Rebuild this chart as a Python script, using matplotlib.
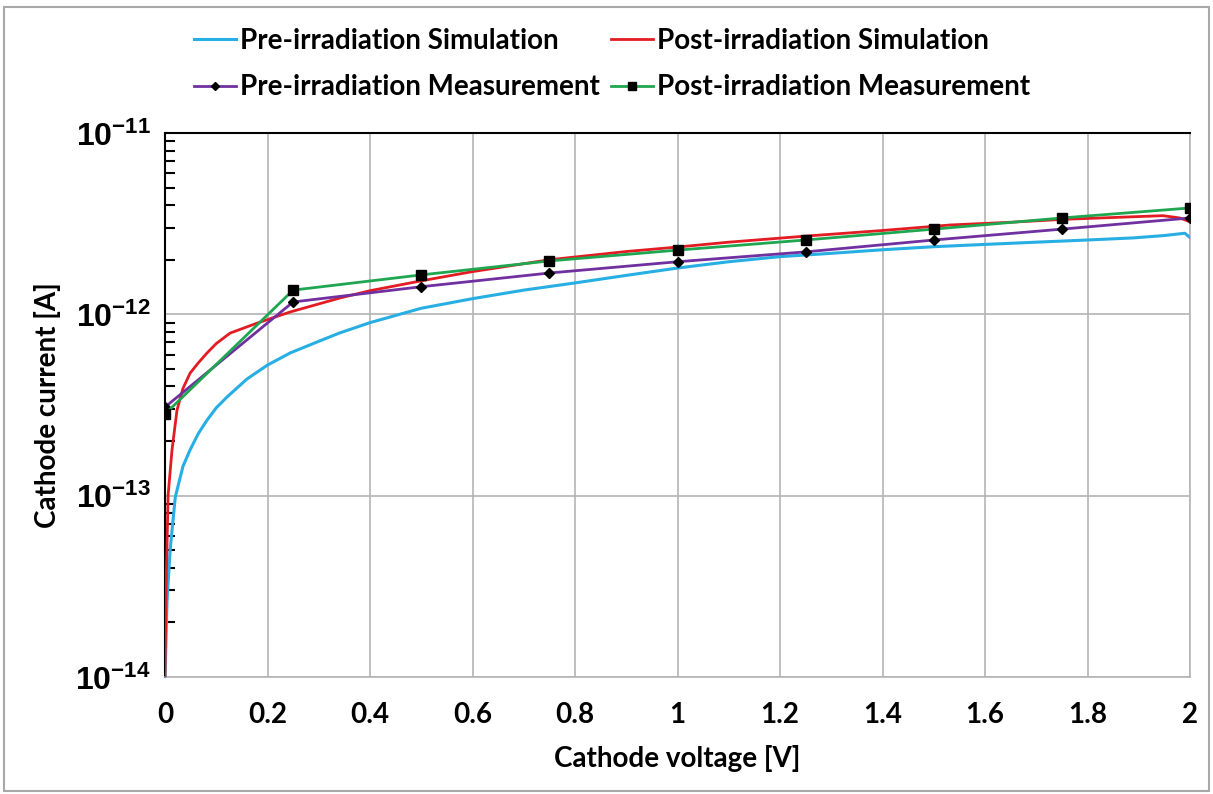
import matplotlib
matplotlib.use("Agg")
import matplotlib.pyplot as plt
from matplotlib.patches import Rectangle
from matplotlib.ticker import LogLocator, NullFormatter

# ---------------- data ----------------
pre_sim_v = [0.0, 0.002, 0.004, 0.01, 0.02, 0.035, 0.049, 0.065, 0.082, 0.1, 0.121, 0.16, 0.2,
             0.244, 0.3, 0.34, 0.4, 0.5, 0.6, 0.7, 0.8, 0.9, 1.0, 1.1, 1.2, 1.3, 1.4, 1.5,
             1.6, 1.7, 1.8, 1.89, 1.95, 1.99, 2.0]
pre_sim_i = [1.0e-14, 1.6e-14, 2.65e-14, 5.0e-14, 9.8e-14, 1.45e-13, 1.79e-13, 2.2e-13, 2.61e-13,
             3.05e-13, 3.5e-13, 4.4e-13, 5.25e-13, 6.12e-13, 7.1e-13, 7.88e-13, 9.0e-13,
             1.08e-12, 1.22e-12, 1.36e-12, 1.49e-12, 1.64e-12, 1.80e-12, 1.95e-12, 2.08e-12,
             2.17e-12, 2.27e-12, 2.36e-12, 2.43e-12, 2.50e-12, 2.57e-12, 2.64e-12, 2.72e-12,
             2.80e-12, 2.65e-12]

post_sim_v = [0.0, 0.002, 0.006, 0.0137, 0.0234, 0.035, 0.049, 0.065, 0.082, 0.1, 0.127, 0.18,
              0.244, 0.341, 0.4, 0.5, 0.6, 0.75, 0.9, 1.0, 1.1, 1.25, 1.4, 1.532, 1.65, 1.752,
              1.85, 1.947, 1.98, 2.0]
post_sim_i = [1.0e-14, 3.0e-14, 1.0e-13, 1.79e-13, 2.96e-13, 3.9e-13, 4.74e-13, 5.4e-13, 6.12e-13,
              6.9e-13, 7.88e-13, 8.95e-13, 1.03e-12, 1.23e-12, 1.35e-12, 1.53e-12, 1.72e-12,
              2.0e-12, 2.22e-12, 2.35e-12, 2.5e-12, 2.7e-12, 2.9e-12, 3.11e-12, 3.22e-12,
              3.34e-12, 3.42e-12, 3.50e-12, 3.4e-12, 3.24e-12]

meas_v = [0.0, 0.25, 0.5, 0.75, 1.0, 1.25, 1.5, 1.75, 2.0]
pre_meas_i = [3.08e-13, 1.17e-12, 1.42e-12, 1.69e-12, 1.95e-12, 2.21e-12, 2.57e-12, 2.95e-12, 3.40e-12]
post_meas_i = [2.82e-13, 1.36e-12, 1.65e-12, 1.97e-12, 2.26e-12, 2.57e-12, 2.95e-12, 3.40e-12, 3.86e-12]

series_names = ["Pre-irradiation Simulation", "Post-irradiation Simulation",
                "Pre-irradiation Measurement", "Post-irradiation Measurement"]

x_ticks = [0, 0.2, 0.4, 0.6, 0.8, 1.0, 1.2, 1.4, 1.6, 1.8, 2.0]
x_tick_labels = ["0", "0.2", "0.4", "0.6", "0.8", "1", "1.2", "1.4", "1.6", "1.8", "2"]
y_ticks = [1e-14, 1e-13, 1e-12, 1e-11]
y_tick_labels = [r"$\mathbf{10^{-14}}$", r"$\mathbf{10^{-13}}$", r"$\mathbf{10^{-12}}$", r"$\mathbf{10^{-11}}$"]

x_label = "Cathode voltage [V]"
y_label = "Cathode current [A]"

# ---------------- styling ----------------
plt.rcParams["font.family"] = ["Lato", "DejaVu Sans"]
plt.rcParams["mathtext.fontset"] = "custom"
plt.rcParams["mathtext.bf"] = "Liberation Sans:bold"
plt.rcParams["mathtext.rm"] = "Liberation Sans"

fig = plt.figure(figsize=(12.13, 7.94), dpi=100)
ax = fig.add_axes([165 / 1213, 1 - 677 / 794, (1190 - 165) / 1213, (677 - 133) / 794])

c_cyan = "#27aee3"
c_red = "#e31b23"
c_purple = "#7030a0"
c_green = "#1fa650"

l1, = ax.plot(pre_sim_v, pre_sim_i, color=c_cyan, lw=2.2, label=series_names[0], zorder=3)
l2, = ax.plot(post_sim_v, post_sim_i, color=c_red, lw=2.0, label=series_names[1], zorder=4)
l3, = ax.plot(meas_v, pre_meas_i, color=c_purple, lw=2.0, marker="D", ms=5.5,
              mfc="black", mec="black", label=series_names[2], zorder=5)
l4, = ax.plot(meas_v, post_meas_i, color=c_green, lw=2.0, marker="s", ms=7.5,
              mfc="black", mec="black", label=series_names[3], zorder=6)

ax.set_yscale("log")
ax.set_xlim(0, 2)
ax.set_ylim(1e-14, 1e-11)

ax.set_xticks(x_ticks)
ax.set_xticklabels(x_tick_labels, fontsize=20, fontweight="bold")
ax.set_yticks(y_ticks)
ax.set_yticklabels(y_tick_labels, fontsize=23)
ax.yaxis.set_minor_locator(LogLocator(base=10, subs=range(2, 10)))
ax.yaxis.set_minor_formatter(NullFormatter())

ax.tick_params(axis="x", which="both", length=0, pad=18)
ax.tick_params(axis="y", which="major", length=0, pad=10)
ax.tick_params(axis="y", which="minor", direction="in", length=7, width=1.5, color="black")

ax.grid(True, which="major", color="#b4b4b4", lw=1.2)
ax.set_axisbelow(True)

for side in ["top", "left"]:
    ax.spines[side].set_color("black")
    ax.spines[side].set_linewidth(1.5)
for side in ["right", "bottom"]:
    ax.spines[side].set_color("#b4b4b4")
    ax.spines[side].set_linewidth(1.2)

ax.set_xlabel(x_label, fontsize=20, fontweight="bold", labelpad=12)
ax.set_ylabel(y_label, fontsize=20, fontweight="bold", labelpad=10)

fig.legend(handles=[l1, l3, l2, l4], loc="center", bbox_to_anchor=(612 / 1213, 1 - 64 / 794),
           ncol=2, frameon=False, prop={"weight": "bold", "size": 20},
           handlelength=1.5, handletextpad=0.15, columnspacing=0.4, labelspacing=0.75,
           markerscale=0.7)

fig.patches.append(Rectangle((0.003, 0.004), 0.994, 0.987, transform=fig.transFigure,
                             fill=False, edgecolor="#a8a8a8", lw=1.5))

fig.savefig("out.png", dpi=100, facecolor="white")
